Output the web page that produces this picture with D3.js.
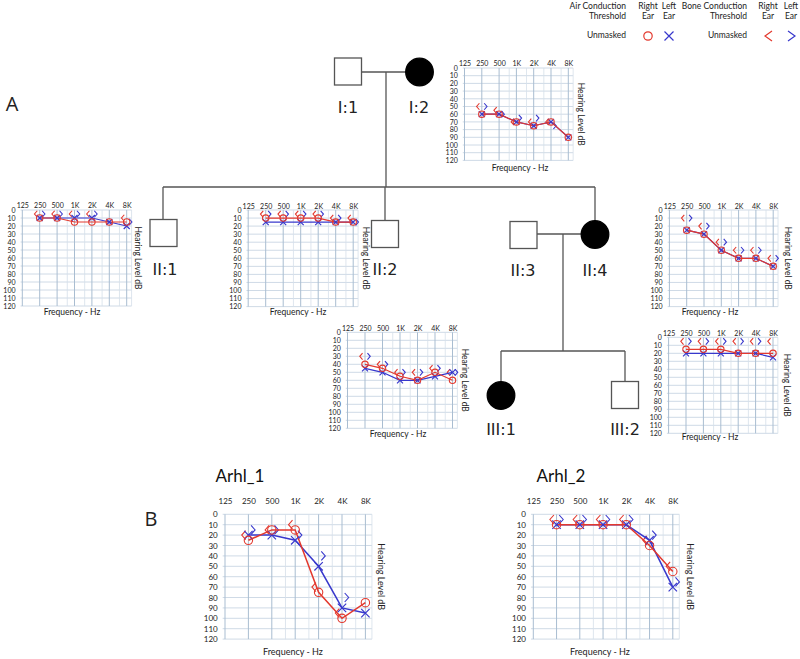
<!DOCTYPE html>
<html><head><meta charset="utf-8">
<script src="https://cdn.jsdelivr.net/npm/d3@7"></script>
<style>body{margin:0;background:#fff} svg{display:block}</style>
</head><body><svg id="c" width="800" height="659"></svg>
<script>
// ---------- DATA ----------
const freqValues = [250, 500, 1000, 2000, 4000, 8000];
const freqTickValues = [125, 250, 500, 1000, 2000, 4000, 8000];
const freqTickLabels = ["125", "250", "500", "1K", "2K", "4K", "8K"];
const freqMinorValues = [750, 1500, 3000, 6000];
const dbTicks = [0, 10, 20, 30, 40, 50, 60, 70, 80, 90, 100, 110, 120];

// I:2
const i2AirRight = [60, 60, 70, 75, 70, 90];
const i2AirLeft = [60, 60, 70, 75, 70, 90];
const i2BoneRight = [50, 55, 70, 70, 70, null];
const i2BoneLeft = [50, 60, 65, 65, 75, null];
// II:1
const ii1AirRight = [10, 10, 15, 15, 15, 15];
const ii1AirLeft = [10, 10, 10, 10, 15, 20];
const ii1BoneRight = [5, 5, 5, 5, null, 10];
const ii1BoneLeft = [5, 5, 5, 5, null, 15];
// II:2
const ii2AirRight = [10, 10, 10, 10, 15, 15];
const ii2AirLeft = [15, 15, 15, 15, 15, 15];
const ii2BoneRight = [5, 5, 5, 5, 10, 10];
const ii2BoneLeft = [5, 5, 5, 5, 10, 15];
// II:4
const ii4AirRight = [25, 30, 50, 60, 60, 70];
const ii4AirLeft = [25, 30, 50, 60, 60, 70];
const ii4BoneRight = [10, 20, 40, 50, 50, 60];
const ii4BoneLeft = [10, 20, 40, 50, 50, 60];
// III:1
const iii1AirRight = [40, 45, 55, 60, 50, 60];
const iii1AirLeft = [45, 50, 60, 60, 55, 50];
const iii1BoneRight = [30, 40, 50, 50, 45, 50];
const iii1BoneLeft = [30, 40, 50, 50, 45, 50];
// III:2
const iii2AirRight = [15, 15, 15, 20, 20, 20];
const iii2AirLeft = [20, 20, 20, 20, 20, 25];
const iii2BoneRight = [5, 5, 5, 5, 5, 5];
const iii2BoneLeft = [5, 5, 5, 5, 5, null];
// Arhl_1
const arhl1AirRight = [25, 15, 15, 75, 100, 85];
const arhl1AirLeft = [20, 20, 25, 50, 90, 95];
const arhl1BoneRight = [20, 15, 10, 70, 95, null];
const arhl1BoneLeft = [15, 15, 20, 40, 80, null];
// Arhl_2
const arhl2AirRight = [10, 10, 10, 10, 30, 55];
const arhl2AirLeft = [10, 10, 10, 10, 25, 70];
const arhl2BoneRight = [5, 5, 5, 5, 25, 50];
const arhl2BoneLeft = [5, 5, 5, 5, 20, 65];

const titles = ["Arhl_1", "Arhl_2"];
const pedLabels = ["I:1", "I:2", "II:1", "II:2", "II:3", "II:4", "III:1", "III:2"];

// ---------- STYLE / LAYOUT ----------
const RED = "#e3392e", BLUE = "#3838cc";
const FONT = "Lato, 'Open Sans', sans-serif";
const svg = d3.select("#c");

const layouts = [
  {x125: 464.5, oct: 17.3, y0: 68, d10: 7.7, tickY: 63.5, hearX: 580, freqX: 520, freqY: 169, big: false,
   d: [i2AirRight, i2AirLeft, i2BoneRight, i2BoneLeft]},
  {x125: 22.3, oct: 17.4, y0: 210, d10: 8.0, tickY: 205.5, hearX: 137, freqX: 72, freqY: 313, big: false,
   d: [ii1AirRight, ii1AirLeft, ii1BoneRight, ii1BoneLeft]},
  {x125: 248.2, oct: 17.5, y0: 210, d10: 8.05, tickY: 206.5, hearX: 365, freqX: 298, freqY: 313, big: false,
   d: [ii2AirRight, ii2AirLeft, ii2BoneRight, ii2BoneLeft]},
  {x125: 669.4, oct: 17.3, y0: 210, d10: 8.05, tickY: 206.5, hearX: 787, freqX: 710, freqY: 313, big: false,
   d: [ii4AirRight, ii4AirLeft, ii4BoneRight, ii4BoneLeft]},
  {x125: 347.5, oct: 17.5, y0: 332.3, d10: 8.0, tickY: 328.5, hearX: 464, freqX: 398, freqY: 435, big: false,
   d: [iii1AirRight, iii1AirLeft, iii1BoneRight, iii1BoneLeft]},
  {x125: 668.6, oct: 17.4, y0: 337.3, d10: 8.0, tickY: 334, hearX: 786, freqX: 710, freqY: 438, big: false,
   d: [iii2AirRight, iii2AirLeft, iii2BoneRight, iii2BoneLeft]},
  {x125: 225, oct: 23.4, y0: 514.3, d10: 10.4, tickY: 501, hearX: 380, freqX: 293, freqY: 653, big: true,
   title: titles[0], titleX: 240, titleY: 478,
   d: [arhl1AirRight, arhl1AirLeft, arhl1BoneRight, arhl1BoneLeft]},
  {x125: 533.3, oct: 23.25, y0: 514.3, d10: 10.4, tickY: 501, hearX: 689, freqX: 600, freqY: 653, big: true,
   title: titles[1], titleX: 561, titleY: 478,
   d: [arhl2AirRight, arhl2AirLeft, arhl2BoneRight, arhl2BoneLeft]}
];

function drawAudiogram(L) {
  const g = svg.append("g");
  const x = d3.scaleLog().base(2).domain([125, 8000]).range([L.x125, L.x125 + 6 * L.oct]);
  const y = d3.scaleLinear().domain([0, 120]).range([L.y0, L.y0 + 12 * L.d10]);
  const xl = x(125) - 0.1 * L.oct, xr = x(8000) + 0.28 * L.oct;
  const yb = y(120);
  const fs = L.big ? 8 : 7;

  g.selectAll(null).data(dbTicks).join("line")
    .attr("x1", xl).attr("x2", xr).attr("y1", d => y(d)).attr("y2", d => y(d))
    .attr("stroke", "#c9d6e3").attr("stroke-width", 0.9);
  g.selectAll(null).data(freqMinorValues).join("line")
    .attr("x1", d => x(d)).attr("x2", d => x(d)).attr("y1", y(0)).attr("y2", yb)
    .attr("stroke", "#d6e0ea").attr("stroke-width", 0.8);
  g.selectAll(null).data(freqTickValues).join("line")
    .attr("x1", d => x(d)).attr("x2", d => x(d)).attr("y1", y(0)).attr("y2", yb)
    .attr("stroke", "#a9bdd1").attr("stroke-width", 1);
  g.append("line").attr("x1", xr).attr("x2", xr).attr("y1", y(0)).attr("y2", yb)
    .attr("stroke", "#d6e0ea").attr("stroke-width", 0.8);

  const ax = g.append("g").attr("transform", `translate(0,${L.tickY + fs * 0.35})`)
    .call(d3.axisTop(x).tickValues(freqTickValues).tickFormat((d, i) => freqTickLabels[i]).tickSize(0).tickPadding(0));
  ax.select(".domain").remove();
  ax.selectAll("text").attr("font-family", FONT).attr("font-size", fs).attr("fill", "#222");
  const ay = g.append("g").attr("transform", `translate(${xl},0)`)
    .call(d3.axisLeft(y).tickValues(dbTicks).tickSize(0).tickPadding(5));
  ay.select(".domain").remove();
  ay.selectAll("text").attr("font-family", FONT).attr("font-size", fs).attr("fill", "#222");

  g.append("text").attr("transform", `translate(${L.hearX},${(y(0) + yb) / 2}) rotate(90)`)
    .attr("text-anchor", "middle").attr("dominant-baseline", "middle")
    .attr("font-family", FONT).attr("font-size", L.big ? 9 : 8.5).attr("fill", "#222").text("Hearing Level dB");
  g.append("text").attr("x", L.freqX).attr("y", L.freqY).attr("text-anchor", "middle")
    .attr("dominant-baseline", "middle").attr("font-family", FONT).attr("font-size", L.big ? 9 : 8.5)
    .attr("fill", "#222").text("Frequency - Hz");
  if (L.title) {
    g.append("text").attr("x", L.titleX).attr("y", L.titleY).attr("text-anchor", "middle")
      .attr("dominant-baseline", "middle").attr("font-family", FONT).attr("font-size", 17)
      .attr("fill", "#111").text(L.title);
  }

  const [aR, aL, bR, bL] = L.d;
  const lw = L.big ? 1.5 : 1.2;
  const r = L.big ? 4.2 : 3.2, xs = L.big ? 4.2 : 3.0;
  const chW = L.big ? 4 : 2.8, chH = L.big ? 9 : 6.5;
  const off = (L.big ? 0.2 : 0.22) * L.oct;
  const pts = arr => freqValues.map((f, i) => [f, arr[i]]).filter(p => p[1] != null);
  const line = d3.line().x(p => x(p[0])).y(p => y(p[1]));

  // bone conduction
  g.selectAll(null).data(pts(bR)).join("path")
    .attr("d", p => { const cx = x(p[0]) - off, cy = y(p[1]);
      return `M${cx + chW / 2},${cy - chH / 2}L${cx - chW / 2},${cy}L${cx + chW / 2},${cy + chH / 2}`; })
    .attr("fill", "none").attr("stroke", RED).attr("stroke-width", 1.1);
  g.selectAll(null).data(pts(bL)).join("path")
    .attr("d", p => { const cx = x(p[0]) + off, cy = y(p[1]);
      return `M${cx - chW / 2},${cy - chH / 2}L${cx + chW / 2},${cy}L${cx - chW / 2},${cy + chH / 2}`; })
    .attr("fill", "none").attr("stroke", BLUE).attr("stroke-width", 1.1);

  // air conduction
  g.append("path").attr("d", line(pts(aL))).attr("fill", "none").attr("stroke", BLUE).attr("stroke-width", lw);
  g.append("path").attr("d", line(pts(aR))).attr("fill", "none").attr("stroke", RED).attr("stroke-width", lw);
  g.selectAll(null).data(pts(aL)).join("path")
    .attr("d", p => { const cx = x(p[0]), cy = y(p[1]);
      return `M${cx - xs},${cy - xs}L${cx + xs},${cy + xs}M${cx - xs},${cy + xs}L${cx + xs},${cy - xs}`; })
    .attr("stroke", BLUE).attr("stroke-width", 1.2);
  g.selectAll(null).data(pts(aR)).join("circle")
    .attr("cx", p => x(p[0])).attr("cy", p => y(p[1])).attr("r", r)
    .attr("fill", "none").attr("stroke", RED).attr("stroke-width", 1.1);
}

// ---------- PEDIGREE ----------
const ped = svg.append("g").attr("stroke", "#555").attr("stroke-width", 1.3).attr("fill", "none");
function ln(x1, y1, x2, y2) { ped.append("line").attr("x1", x1).attr("y1", y1).attr("x2", x2).attr("y2", y2); }
function sq(cx, cy) { ped.append("rect").attr("x", cx - 13.5).attr("y", cy - 13.5).attr("width", 27).attr("height", 27).attr("fill", "#fff"); }
function ci(cx, cy) { ped.append("circle").attr("cx", cx).attr("cy", cy).attr("r", 13.8).attr("fill", "#000").attr("stroke", "#000"); }

ln(361, 72, 406, 72); ln(386, 72, 386, 187);
ln(163, 187, 595, 187);
ln(163, 187, 163, 219); ln(385, 187, 385, 220); ln(595, 187, 595, 221);
ln(537, 234, 582, 234); ln(563, 234, 563, 351);
ln(501, 351, 625, 351); ln(501, 351, 501, 382); ln(625, 351, 625, 382);
sq(348, 71.5); ci(419.5, 72);
sq(163.5, 233); sq(385, 234); sq(523.5, 235); ci(595, 234.5);
ci(501, 395.5); sq(625, 395);

const pedLabelPos = [[348, 108], [419, 108], [165, 270], [385, 270], [523, 271], [595, 271], [501, 430], [625, 430]];
svg.selectAll(null).data(pedLabels).join("text")
  .attr("x", (d, i) => pedLabelPos[i][0]).attr("y", (d, i) => pedLabelPos[i][1])
  .attr("text-anchor", "middle").attr("dominant-baseline", "middle")
  .attr("font-family", "'DejaVu Sans', sans-serif").attr("font-size", 16).attr("fill", "#222").text(d => d);

svg.append("text").attr("x", 12).attr("y", 106).attr("text-anchor", "middle").attr("dominant-baseline", "middle")
  .attr("font-family", "'Open Sans', sans-serif").attr("font-size", 20).attr("fill", "#222").text("A");
svg.append("text").attr("x", 151).attr("y", 521).attr("text-anchor", "middle").attr("dominant-baseline", "middle")
  .attr("font-family", "'Open Sans', sans-serif").attr("font-size", 20).attr("fill", "#222").text("B");

layouts.forEach(drawAudiogram);

// ---------- LEGEND ----------
const lg = svg.append("g").attr("font-family", FONT).attr("font-size", 8.5).attr("fill", "#222");
function lt(x, y, t, a) { lg.append("text").attr("x", x).attr("y", y).attr("text-anchor", a).attr("dominant-baseline", "middle").text(t); }
lt(626, 7, "Air Conduction", "end"); lt(626, 17, "Threshold", "end"); lt(626, 36, "Unmasked", "end");
lt(648, 7, "Right", "middle"); lt(648, 17, "Ear", "middle");
lt(669, 7, "Left", "middle"); lt(669, 17, "Ear", "middle");
lt(747, 7, "Bone Conduction", "end"); lt(747, 17, "Threshold", "end"); lt(747, 36, "Unmasked", "end");
lt(768, 7, "Right", "middle"); lt(768, 17, "Ear", "middle");
lt(791, 7, "Left", "middle"); lt(791, 17, "Ear", "middle");
lg.append("circle").attr("cx", 648).attr("cy", 36).attr("r", 4.2).attr("fill", "none").attr("stroke", RED).attr("stroke-width", 1.2);
lg.append("path").attr("d", "M664.5,31.5L673.5,40.5M664.5,40.5L673.5,31.5").attr("stroke", BLUE).attr("stroke-width", 1.2);
lg.append("path").attr("d", "M772,31L765,36L772,41").attr("fill", "none").attr("stroke", RED).attr("stroke-width", 1.2);
lg.append("path").attr("d", "M788,31L795,36L788,41").attr("fill", "none").attr("stroke", BLUE).attr("stroke-width", 1.2);
</script></body></html>
